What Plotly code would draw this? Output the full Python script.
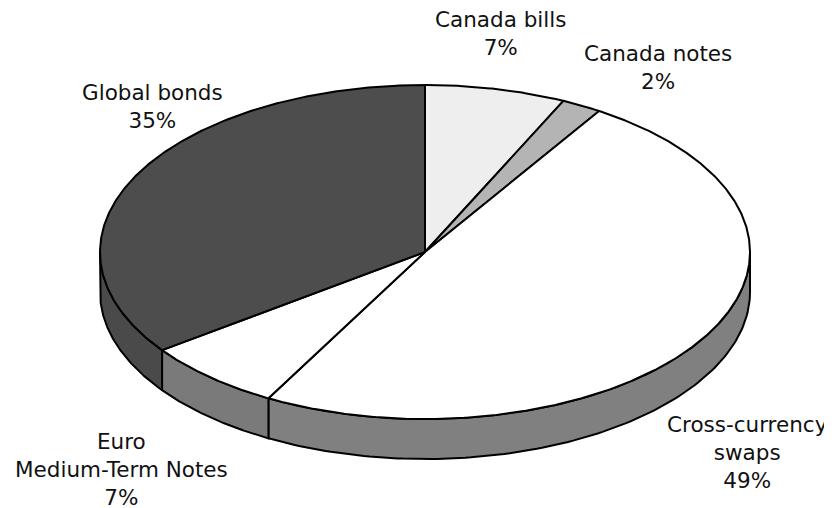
import numpy as np
import plotly.graph_objects as go

labels = ["Canada bills", "Canada notes", "Cross-currency swaps", "Euro Medium-Term Notes", "Global bonds"]
label_text = ["Canada bills<br>7%", "Canada notes<br>2%", "Cross-currency<br>swaps<br>49%",
              "Euro<br>Medium-Term Notes<br>7%", "Global bonds<br>35%"]
values = [7, 2, 49, 7, 35]

top_colors = ["#eeeeee", "#b4b4b4", "#ffffff", "#ffffff", "#4d4d4d"]
side_colors = ["#bdbdbd", "#8a8a8a", "#808080", "#7a7a7a", "#4a4a4a"]

W, H = 832, 508
OFF = 8  # page body margin
cx, cy, rx, ry, depth = 425, 252, 325, 167, 40

def pt(t_deg):
    t = np.radians(t_deg)
    return cx + rx * np.sin(t), cy - ry * np.cos(t)

total = sum(values)
bounds = np.concatenate([[0], np.cumsum(values) / total * 360.0])

fig = go.Figure()

# side walls (front half only: 90..270 degrees)
for i in range(len(values)):
    a0, a1 = bounds[i], bounds[i + 1]
    s0, s1 = max(a0, 90), min(a1, 270)
    if s1 <= s0:
        continue
    ts = np.linspace(s0, s1, 120)
    xs, ys = pt(ts)
    px = list(xs) + list(xs[::-1]) + [xs[0]]
    py = list(ys) + list((ys + depth)[::-1]) + [ys[0]]
    fig.add_trace(go.Scatter(x=px, y=py, mode="lines", fill="toself",
                             fillcolor=side_colors[i],
                             line=dict(color="black", width=2),
                             hoverinfo="skip", showlegend=False))

# top faces
for i in range(len(values)):
    a0, a1 = bounds[i], bounds[i + 1]
    ts = np.linspace(a0, a1, max(20, int((a1 - a0) * 3)))
    xs, ys = pt(ts)
    px = [cx] + list(xs) + [cx]
    py = [cy] + list(ys) + [cy]
    fig.add_trace(go.Scatter(x=px, y=py, mode="lines", fill="toself",
                             fillcolor=top_colors[i],
                             line=dict(color="black", width=2),
                             hoverinfo="skip", showlegend=False))

label_pos = [(500, 33), (658, 67), (747, 452), (121, 469), (152, 106)]
for (lx, ly), txt in zip(label_pos, label_text):
    fig.add_annotation(x=lx, y=ly, text=txt, showarrow=False,
                       xanchor="center", yanchor="middle",
                       font=dict(family="DejaVu Sans", size=21.5, color="#111111"))

fig.update_layout(
    width=W - OFF, height=H - OFF, margin=dict(l=0, r=0, t=0, b=0),
    paper_bgcolor="white", plot_bgcolor="white",
    xaxis=dict(range=[OFF, W], visible=False, fixedrange=True),
    yaxis=dict(range=[H, OFF], visible=False, fixedrange=True),
)
fig.write_html("out.html")
